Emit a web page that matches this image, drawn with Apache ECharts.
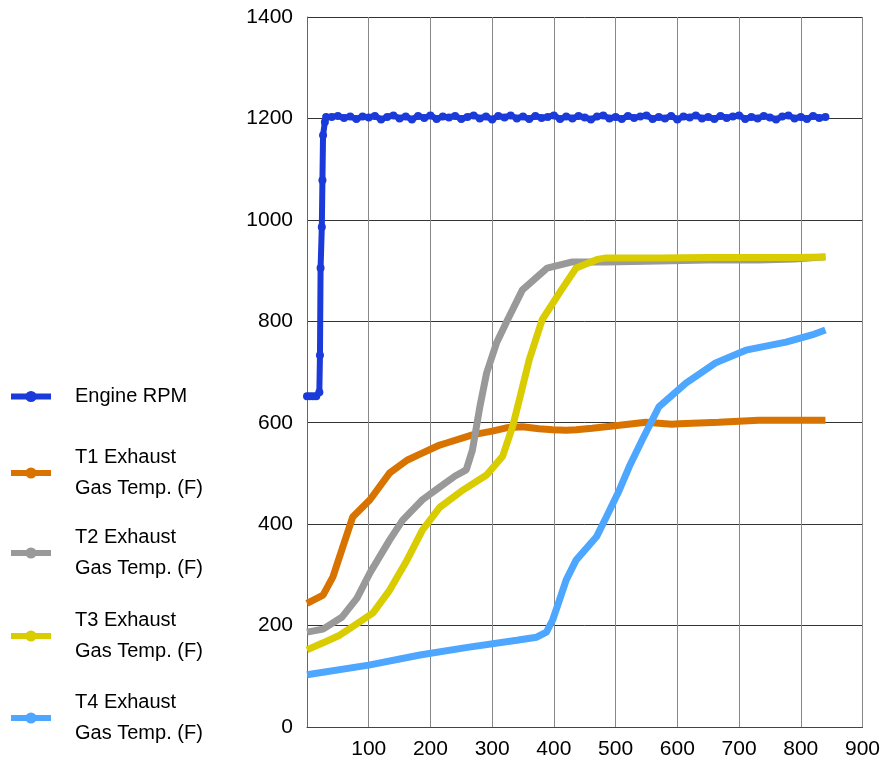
<!DOCTYPE html>
<html>
<head>
<meta charset="utf-8">
<script src="https://cdn.jsdelivr.net/npm/echarts@6/dist/echarts.min.js"></script>
<style>
html,body{margin:0;padding:0;background:#fff;}
#chart{width:883px;height:768px;}
</style>
</head>
<body>
<div id="chart"></div>
<script>
// ---- data ----
var seriesNames = ['Engine RPM', 'T1 Exhaust\nGas Temp. (F)', 'T2 Exhaust\nGas Temp. (F)', 'T3 Exhaust\nGas Temp. (F)', 'T4 Exhaust\nGas Temp. (F)'];

var rpmStartX = [0, 5, 10, 15, 20, 21, 22, 24, 25, 26, 29, 31];
var rpmStartY = [652, 652, 652, 652, 660, 733, 905, 986, 1078, 1167, 1193, 1203];
var rpmSteadyX0 = 40, rpmSteadyStep = 10;
var rpmSteady = [
  1203,1205,1201,1204,1199,1204,1202,1205,1198,1203,
  1206,1200,1204,1198,1205,1201,1206,1199,1204,1202,
  1205,1199,1203,1206,1200,1204,1198,1205,1202,1206,
  1200,1204,1199,1205,1201,1203,1206,1199,1204,1200,
  1205,1202,1198,1204,1206,1200,1203,1199,1205,1201,
  1204,1206,1199,1203,1200,1205,1198,1204,1202,1206,
  1200,1203,1199,1205,1201,1204,1206,1199,1203,1200,
  1205,1202,1198,1204,1206,1200,1203,1199,1205,1201,1203
];

var t1X = [0, 26, 42, 58, 74, 102, 134, 162, 183, 215, 226, 268, 302, 323, 349, 376, 398, 420, 436, 462, 506, 549, 591, 603, 667, 732, 790, 840];
var t1Y = [244, 260, 296, 355, 414, 448, 501, 526, 538, 556, 560, 576, 584, 590, 592, 588, 586, 585, 586, 589, 595, 601, 597, 598, 601, 605, 605, 605];

var t2X = [0, 26, 57, 81, 102, 134, 155, 187, 215, 240, 258, 268, 280, 291, 307, 325, 349, 389, 430, 485, 570, 650, 732, 790, 840];
var t2Y = [187, 193, 217, 254, 304, 369, 408, 448, 473, 495, 507, 546, 631, 698, 757, 803, 862, 905, 917, 917, 919, 921, 921, 923, 927];

var t3X = [0, 26, 53, 80, 107, 134, 162, 187, 215, 250, 291, 317, 333, 344, 360, 381, 409, 436, 470, 485, 570, 650, 732, 790, 840];
var t3Y = [152, 166, 181, 203, 225, 270, 329, 388, 433, 465, 497, 534, 592, 645, 724, 803, 856, 905, 922, 925, 925, 926, 926, 926, 927];

var t4X = [0, 100, 183, 260, 340, 372, 388, 398, 409, 420, 436, 469, 485, 506, 522, 543, 570, 614, 662, 711, 776, 818, 840];
var t4Y = [103, 122, 142, 157, 171, 177, 187, 211, 250, 290, 329, 375, 414, 467, 513, 566, 631, 678, 718, 743, 759, 773, 783];

var xTicks = {min: 0, max: 900, interval: 100};
var yTicks = {min: 0, max: 1400, interval: 200};

var colors = ['#1a3ad9', '#d97300', '#999999', '#d9cc00', '#4da6ff'];

// ---- build ----
function zip(xs, ys) { var o = []; for (var i = 0; i < xs.length; i++) o.push([xs[i], ys[i]]); return o; }
var rpmData = zip(rpmStartX, rpmStartY);
for (var i = 0; i < rpmSteady.length; i++) rpmData.push([rpmSteadyX0 + i * rpmSteadyStep, rpmSteady[i]]);

var fontStack = "'Liberation Sans Narrow', 'Liberation Sans', Arial, sans-serif";
var labelFont = {color: '#000', fontFamily: fontStack, fontSize: 21, formatter: function (v) { return String(v); }};
var legendTops = [381, 442, 522, 605, 687];
var legends = seriesNames.map(function (n, i) {
  return {
    orient: 'vertical', left: 8, top: legendTops[i], padding: 0,
    itemWidth: 40, itemHeight: 14, selectedMode: false,
    data: [n],
    lineStyle: {width: 6},
    textStyle: {color: '#000', fontFamily: "'Liberation Sans', Arial, sans-serif", fontSize: 20, lineHeight: 31, padding: [0, 0, 0, 19]}
  };
});

function tSeries(idx, data) {
  return {
    name: seriesNames[idx], type: 'line', data: data, symbol: 'circle', symbolSize: 8,
    showSymbol: false, lineStyle: {width: 7, color: colors[idx]}, itemStyle: {color: colors[idx]},
    animation: false, z: 2 + idx
  };
}

var option = {
  backgroundColor: '#fff',
  animation: false,
  legend: legends,
  grid: {left: 307, right: 19, top: 17, bottom: 41, containLabel: false},
  xAxis: {
    type: 'value', min: xTicks.min, max: xTicks.max, interval: xTicks.interval,
    axisLine: {show: true, lineStyle: {color: '#444', width: 1}},
    axisTick: {show: false},
    axisLabel: Object.assign({margin: 12, showMinLabel: false}, labelFont),
    splitLine: {show: true, lineStyle: {color: '#888', width: 1}}
  },
  yAxis: {
    type: 'value', min: yTicks.min, max: yTicks.max, interval: yTicks.interval,
    axisLine: {show: true, lineStyle: {color: '#666', width: 1}},
    axisTick: {show: false},
    axisLabel: Object.assign({margin: 14}, labelFont),
    splitLine: {show: true, lineStyle: {color: '#333', width: 1}}
  },
  series: [
    {
      name: seriesNames[0], type: 'line', data: rpmData, symbol: 'circle', symbolSize: 8,
      showSymbol: true, lineStyle: {width: 6, color: colors[0]}, itemStyle: {color: colors[0]}, z: 10
    },
    tSeries(1, zip(t1X, t1Y)),
    tSeries(2, zip(t2X, t2Y)),
    tSeries(3, zip(t3X, t3Y)),
    tSeries(4, zip(t4X, t4Y))
  ]
};

var chart = echarts.init(document.getElementById('chart'), null, {renderer: 'canvas'});
chart.setOption(option);
</script>
</body>
</html>
